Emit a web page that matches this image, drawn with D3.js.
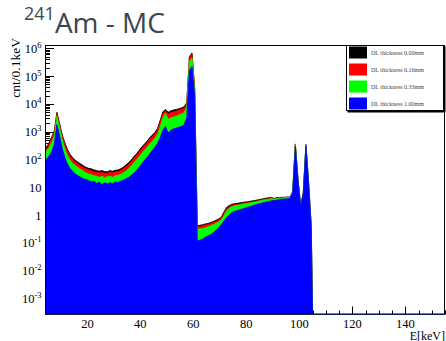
<!DOCTYPE html>
<html>
<head>
<meta charset="utf-8">
<script src="https://cdn.jsdelivr.net/npm/d3@7"></script>
<style>
  body { margin: 0; background: #fff; }
  svg text { font-family: "Liberation Serif", "DejaVu Serif", serif; }
</style>
</head>
<body>
<div id="chart"></div>
<script>
// 1 keV bins, lower edges 4 .. 104 keV
var binLow = d3.range(4, 105);

var seriesNames = ["DL thickness 0.00mm", "DL thickness 0.16mm", "DL thickness 0.33mm", "DL thickness 1.00mm"];
var seriesColors = ["#000000", "#ff0000", "#00ff00", "#0000ff"];

// counts per 0.1 keV
var dl000 = [260, 400, 630, 1100, 5000, 2000, 790, 400, 230, 150,
  115, 93, 79, 69, 60, 52, 48, 46, 42, 40,
  38, 40, 37, 36, 40, 38, 41, 42, 46, 52,
  63, 76, 95, 126, 158, 214, 282, 355, 457, 603,
  759, 955, 1318, 2630, 5250, 6310, 5010, 5620, 6030, 6310,
  6760, 7240, 7940, 11200, 501000, 676000, 39800, 0.41, 0.43, 0.45,
  0.48, 0.50, 0.54, 0.59, 0.65, 0.72, 0.83, 1.26, 1.86, 2.19,
  2.45, 2.57, 2.63, 2.75, 2.82, 2.95, 3.02, 3.16, 3.24, 3.39,
  3.55, 3.72, 3.89, 4.07, 4.17, 4.27, 3.98, 4.27, 4.17, 4.37,
  4.37, 4.47, 4.47, 7.08, 363, 20, 2.24, 6.31, 347, 15.8,
  0.40];
var dl016 = [234, 355, 562, 1000, 4570, 1780, 708, 347, 200, 132,
  100, 81, 69, 60, 52, 46, 42, 40, 36, 35,
  33, 35, 32, 31.6, 35, 33, 35.5, 36, 40, 46,
  55, 66, 83, 110, 138, 186, 245, 309, 398, 525,
  661, 832, 1150, 2290, 4570, 5620, 4370, 4900, 5250, 5500,
  5890, 6310, 6920, 10000, 447000, 603000, 35500, 0.37, 0.39, 0.41,
  0.44, 0.46, 0.49, 0.54, 0.59, 0.66, 0.76, 1.12, 1.66, 2.0,
  2.24, 2.34, 2.4, 2.51, 2.57, 2.69, 2.75, 2.88, 2.95, 3.09,
  3.24, 3.47, 3.63, 3.8, 3.89, 4.07, 3.8, 4.07, 3.98, 4.17,
  4.27, 4.37, 4.37, 6.92, 355, 19.5, 2.19, 6.17, 339, 15.5,
  0.39];
var dl033 = [200, 263, 398, 708, 3630, 1410, 525, 240, 138, 93,
  72, 60, 51, 44, 38, 33, 30, 29, 26, 25,
  23, 25, 22, 24, 25, 23, 26, 27, 29, 33,
  38, 46, 58, 76, 95, 126, 166, 214, 275, 363,
  457, 575, 794, 1510, 3160, 4570, 2820, 3160, 3390, 3630,
  3980, 4370, 4900, 7590, 331000, 447000, 28200, 0.31, 0.32, 0.33,
  0.35, 0.38, 0.41, 0.45, 0.50, 0.56, 0.66, 0.93, 1.38, 1.74,
  2.0, 2.14, 2.24, 2.34, 2.45, 2.57, 2.63, 2.75, 2.88, 3.02,
  3.16, 3.31, 3.47, 3.63, 3.72, 3.89, 3.72, 3.98, 3.89, 4.07,
  4.17, 4.27, 4.27, 6.76, 339, 18.6, 2.14, 6.03, 324, 14.8,
  0.38];
var dl100 = [100, 132, 191, 355, 1820, 708, 251, 115, 68, 47,
  37, 30, 26, 23, 20, 19, 17.4, 15.8, 16.6, 13.8,
  15.1, 12.6, 14.5, 13.2, 14.8, 13.2, 15.8, 14.8, 16.6, 17.8,
  20, 22.4, 26.3, 31.6, 39.8, 52.5, 69.2, 91.2, 120, 158,
  209, 282, 380, 603, 1120, 1510, 891, 1120, 1260, 1350,
  1450, 1550, 1780, 3160, 158000, 224000, 20000, 0.117, 0.126, 0.138,
  0.158, 0.178, 0.2, 0.229, 0.275, 0.347, 0.447, 0.603, 0.813, 1.0,
  1.23, 1.35, 1.45, 1.55, 1.66, 1.78, 1.91, 2.04, 2.19, 2.34,
  2.51, 2.63, 2.82, 2.95, 3.09, 3.24, 3.31, 3.47, 3.55, 3.72,
  3.8, 3.89, 3.98, 6.31, 302, 17.8, 2.09, 5.75, 302, 14.1,
  0.35];

var seriesValues = [dl000, dl016, dl033, dl100];

var xTicks = [20, 40, 60, 80, 100, 120, 140];
var yExponents = [-3, -2, -1, 0, 1, 2, 3, 4, 5, 6];

// frame in page pixels
var frame = {left: 45, right: 445, top: 45, bottom: 314.5};
var W = 446, H = 341;

var svg = d3.select("#chart").append("svg")
    .attr("width", W)
    .attr("height", H);

var x = d3.scaleLinear()
    .domain([4, 155])
    .range([frame.left, frame.right]);

var yMin = Math.pow(10, -3.58);
var y = d3.scaleLog()
    .domain([yMin, Math.pow(10, 6.12)])
    .range([frame.bottom, frame.top]);

// title
var title = svg.append("text")
    .attr("x", 24)
    .attr("y", 33)
    .style("font-family", "'Open Sans', 'Noto Sans', sans-serif")
    .attr("fill", "#3b4653");
title.append("tspan")
    .attr("font-size", 18)
    .attr("dy", -13)
    .text("241");
title.append("tspan")
    .attr("font-size", 28)
    .attr("dy", 13)
    .text("Am - MC");

// y ticks (drawn under the histograms)
var yTickG = svg.append("g").attr("stroke", "#000").attr("stroke-width", 1);
for (var n = -4; n <= 6; n++) {
  for (var k = 1; k <= 9; k++) {
    var v = k * Math.pow(10, n);
    if (v < y.domain()[0] || v > y.domain()[1]) continue;
    var yy = Math.round(y(v)) + 0.5;
    yTickG.append("line")
        .attr("x1", frame.left)
        .attr("x2", frame.left + (k === 1 ? 9 : 5))
        .attr("y1", yy).attr("y2", yy);
  }
}

// x ticks
var xTickG = svg.append("g").attr("stroke", "#000").attr("stroke-width", 1);
d3.range(5, 156, 5).forEach(function(e) {
  var xx = Math.round(x(e)) + 0.5;
  xTickG.append("line")
      .attr("x1", xx).attr("x2", xx)
      .attr("y1", frame.bottom)
      .attr("y2", frame.bottom - (e % 20 === 0 ? 8 : 4));
});

// histograms, thinnest dead layer first so thicker ones sit on top
svg.append("clipPath").attr("id", "frameClip")
  .append("rect")
    .attr("x", frame.left).attr("y", frame.top)
    .attr("width", frame.right - frame.left)
    .attr("height", frame.bottom - frame.top);

var area = d3.area()
    .x(function(d) { return x(d.e); })
    .y0(y(yMin))
    .y1(function(d) { return y(Math.max(d.v, yMin)); });

// points at bin centres, closed at the frame edge and the end point
function histPoints(vals) {
  var pts = [{e: binLow[0], v: vals[0]}];
  vals.forEach(function(v, i) { pts.push({e: binLow[i] + 0.5, v: v}); });
  pts.push({e: binLow[binLow.length - 1] + 1, v: yMin});
  pts.push({e: x.domain()[1], v: yMin});
  return pts;
}

var histG = svg.append("g").attr("clip-path", "url(#frameClip)");
seriesValues.forEach(function(vals, i) {
  histG.append("path")
      .datum(histPoints(vals))
      .attr("fill", seriesColors[i])
      .attr("stroke", seriesColors[i])
      .attr("stroke-width", 0.8)
      .attr("d", area);
});

// frame
svg.append("rect")
    .attr("x", frame.left + 0.5)
    .attr("y", frame.top + 0.5)
    .attr("width", frame.right - frame.left - 1)
    .attr("height", frame.bottom - frame.top - 1)
    .attr("fill", "none")
    .attr("stroke", "#000")
    .attr("stroke-width", 1);

// y tick labels
yExponents.forEach(function(p) {
  var t = svg.append("text")
      .attr("x", 41.5)
      .attr("y", y(Math.pow(10, p)) + 4.5)
      .attr("text-anchor", "end")
      .attr("font-size", 12.5)
      .attr("fill", "#000");
  if (p === 0) { t.text("1"); return; }
  if (p === 1) { t.text("10"); return; }
  t.append("tspan").text("10");
  t.append("tspan")
      .attr("font-size", 8.5)
      .attr("dy", -5)
      .text(String(p));
});

// x tick labels
xTicks.forEach(function(e) {
  svg.append("text")
      .attr("x", x(e))
      .attr("y", 328)
      .attr("text-anchor", "middle")
      .attr("font-size", 12.5)
      .text(e);
});

// axis titles
svg.append("text")
    .attr("x", 445)
    .attr("y", 339.5)
    .attr("text-anchor", "end")
    .attr("font-size", 12)
    .text("E[keV]");

svg.append("text")
    .attr("transform", "translate(19.5,38) rotate(-90)")
    .attr("text-anchor", "end")
    .attr("font-size", 13.5)
    .text("cnt/0.1keV");

// legend
var leg = {x: 346, y: 45, w: 98, h: 66};
var legG = svg.append("g");
legG.append("rect")
    .attr("x", leg.x + 1.5).attr("y", leg.y + 1.5)
    .attr("width", leg.w).attr("height", leg.h)
    .attr("fill", "#000");
legG.append("rect")
    .attr("x", leg.x + 0.5).attr("y", leg.y + 0.5)
    .attr("width", leg.w - 1).attr("height", leg.h - 1)
    .attr("fill", "#fff")
    .attr("stroke", "#000");

var rowY = d3.scalePoint()
    .domain(seriesNames)
    .range([leg.y + 7.5, leg.y + 58.5]);

seriesNames.forEach(function(name, i) {
  legG.append("rect")
      .attr("x", leg.x + 3)
      .attr("y", rowY(name) - 6)
      .attr("width", 18)
      .attr("height", 12)
      .attr("fill", seriesColors[i]);
  legG.append("text")
      .attr("x", leg.x + 25)
      .attr("y", rowY(name) + 2)
      .attr("font-size", 6)
      .attr("fill", "#444")
      .text(name);
});
</script>
</body>
</html>
